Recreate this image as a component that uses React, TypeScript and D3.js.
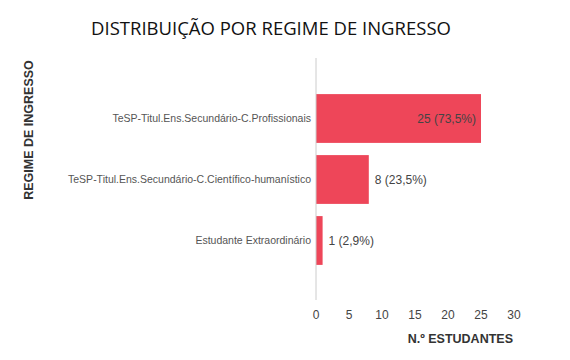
import React from "react";
import * as d3 from "d3";

const categories = [
  "TeSP-Titul.Ens.Secundário-C.Profissionais",
  "TeSP-Titul.Ens.Secundário-C.Científico-humanístico",
  "Estudante Extraordinário",
];
const values = [25, 8, 1];
const percentLabels = ["73,5%", "23,5%", "2,9%"];
const xTicks = [0, 5, 10, 15, 20, 25, 30];
const chartTitle = "DISTRIBUIÇÃO POR REGIME DE INGRESSO";
const yTitle = "REGIME DE INGRESSO";
const xTitle = "N.º ESTUDANTES";

const W = 570;
const H = 360;

export default function App() {
  const x = d3.scaleLinear().domain([0, 30]).range([316, 514]);
  const y = d3
    .scaleBand<string>()
    .domain(categories)
    .range([88, 271])
    .paddingInner(0.2)
    .paddingOuter(0.1);
  const font = "'Liberation Sans', Arial, sans-serif";
  return (
    <svg
      width={W}
      height={H}
      style={{ position: "absolute", left: 0, top: 0, background: "#fff" }}
    >
      <text
        x={271}
        y={35}
        textAnchor="middle"
        fontFamily="'Open Sans', sans-serif"
        fontSize={18.5}
        fill="#111"
      >
        {chartTitle}
      </text>
      <text
        transform={`translate(33,130) rotate(-90)`}
        textAnchor="middle"
        fontFamily={font}
        fontWeight="bold"
        fontSize={12.5}
        fill="#333"
      >
        {yTitle}
      </text>
      {categories.map((c, i) => {
        const y0 = y(c)!;
        const bw = y.bandwidth();
        const inside = values[i] >= 20;
        const label = `${values[i]} (${percentLabels[i]})`;
        return (
          <g key={c}>
            <rect
              x={x(0)}
              y={y0}
              width={x(values[i]) - x(0)}
              height={bw}
              fill="#EE4659"
            />
            <text
              x={311}
              y={y0 + bw / 2}
              dy="0.35em"
              textAnchor="end"
              fontFamily={font}
              fontSize={10.5}
              fill="#555"
            >
              {c}
            </text>
            <text
              x={inside ? x(values[i]) - 5 : x(values[i]) + 6}
              y={y0 + bw / 2}
              dy="0.35em"
              textAnchor={inside ? "end" : "start"}
              fontFamily={font}
              fontSize={12}
              fill="#444"
            >
              {label}
            </text>
          </g>
        );
      })}
      <line x1={316} x2={316} y1={58} y2={300} stroke="#ccc" strokeWidth={1} />
      {xTicks.map((t) => (
        <text
          key={t}
          x={x(t)}
          y={319}
          textAnchor="middle"
          fontFamily={font}
          fontSize={12}
          fill="#444"
        >
          {t}
        </text>
      ))}
      <text
        x={513}
        y={343}
        textAnchor="end"
        fontFamily={font}
        fontWeight="bold"
        fontSize={12.5}
        fill="#333"
      >
        {xTitle}
      </text>
    </svg>
  );
}
